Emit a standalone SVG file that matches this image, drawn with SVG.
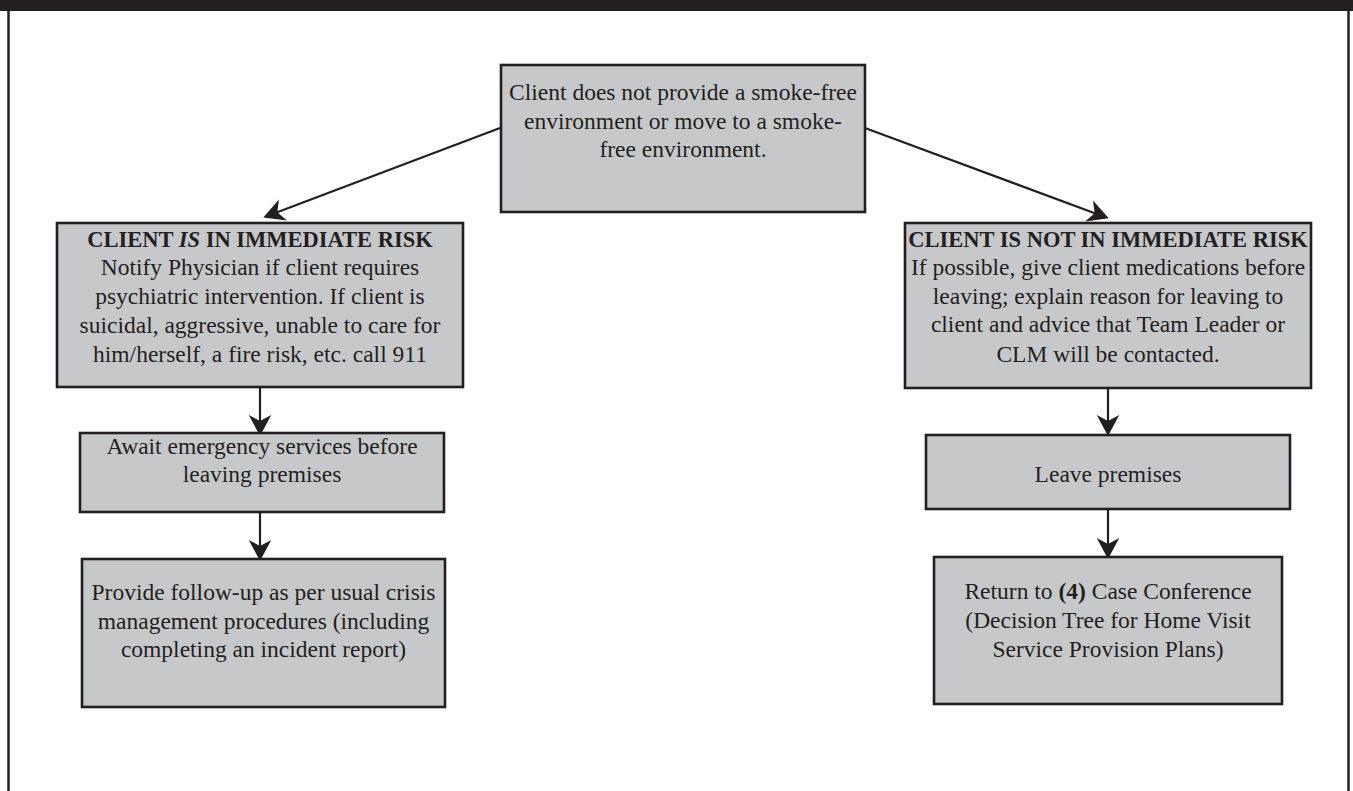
<svg xmlns="http://www.w3.org/2000/svg" width="1353" height="791" viewBox="0 0 1353 791">
<style>
.box{fill:#c7c8ca;stroke:#231f20;stroke-width:2.6}
.t{font-family:"Liberation Serif","Times New Roman",serif;font-size:23.5px;fill:#231f20;text-anchor:middle}
.h{font-weight:bold;font-size:22.5px}
.c{stroke:#231f20;stroke-width:2.2;fill:none;marker-end:url(#ah)}
</style>
<defs>
<marker id="ah" markerUnits="userSpaceOnUse" markerWidth="30" markerHeight="30" viewBox="-10 -10 20 20" refX="0" refY="0" orient="auto">
<path d="M8,0 L-6,-7.5 L-2,0 L-6,7.5 Z" fill="#231f20"/>
</marker>
</defs>
<rect x="0" y="0" width="1353" height="11" fill="#231f20"/>
<line x1="8.5" y1="11" x2="8.5" y2="791" stroke="#231f20" stroke-width="2.5"/>
<line x1="1348.5" y1="11" x2="1348.5" y2="791" stroke="#231f20" stroke-width="2.5"/>
<g id="connectors">
<path class="c" d="M500,128 L274.5,213.2"/>
<path class="c" d="M865,128 L1097.5,214.2"/>
<path class="c" d="M260,387 L260,424"/>
<path class="c" d="M260,512 L260,549"/>
<path class="c" d="M1108,388 L1108,424"/>
<path class="c" d="M1108,509 L1108,547"/>
</g>
<g id="start">
<rect class="box" x="501" y="65" width="364" height="147"/>
<text class="t" x="683" y="100">Client does not provide a smoke-free</text>
<text class="t" x="683" y="128.5">environment or move to a smoke-</text>
<text class="t" x="683" y="157">free environment.</text>
</g>
<g id="immediate-risk">
<rect class="box" x="57" y="223" width="406" height="164"/>
<text class="t h" x="260" y="247">CLIENT <tspan font-style="italic">IS</tspan> IN IMMEDIATE RISK</text>
<text class="t" x="260" y="275">Notify Physician if client requires</text>
<text class="t" x="260" y="303.5">psychiatric intervention. If client is</text>
<text class="t" x="260" y="333">suicidal, aggressive, unable to care for</text>
<text class="t" x="260" y="362">him/herself, a fire risk, etc. call 911</text>
</g>
<g id="not-immediate-risk">
<rect class="box" x="905" y="223" width="406" height="165"/>
<text class="t h" x="1108" y="247">CLIENT IS NOT IN IMMEDIATE RISK</text>
<text class="t" x="1108" y="275">If possible, give client medications before</text>
<text class="t" x="1108" y="303.5">leaving; explain reason for leaving to</text>
<text class="t" x="1108" y="332">client and advice that Team Leader or</text>
<text class="t" x="1108" y="362">CLM will be contacted.</text>
</g>
<g id="await">
<rect class="box" x="80" y="433" width="364" height="79"/>
<text class="t" x="262" y="453.5">Await emergency services before</text>
<text class="t" x="262" y="482">leaving premises</text>
</g>
<g id="followup">
<rect class="box" x="82" y="559" width="363" height="148"/>
<text class="t" x="263.5" y="600">Provide follow-up as per usual crisis</text>
<text class="t" x="263.5" y="628.5">management procedures (including</text>
<text class="t" x="263.5" y="657">completing an incident report)</text>
</g>
<g id="leave">
<rect class="box" x="926" y="435" width="364" height="74"/>
<text class="t" x="1108" y="482">Leave premises</text>
</g>
<g id="return">
<rect class="box" x="934" y="557" width="348" height="147"/>
<text class="t" x="1108" y="599">Return to <tspan font-weight="bold">(4)</tspan> Case Conference</text>
<text class="t" x="1108" y="628">(Decision Tree for Home Visit</text>
<text class="t" x="1108" y="657">Service Provision Plans)</text>
</g>
</svg>
